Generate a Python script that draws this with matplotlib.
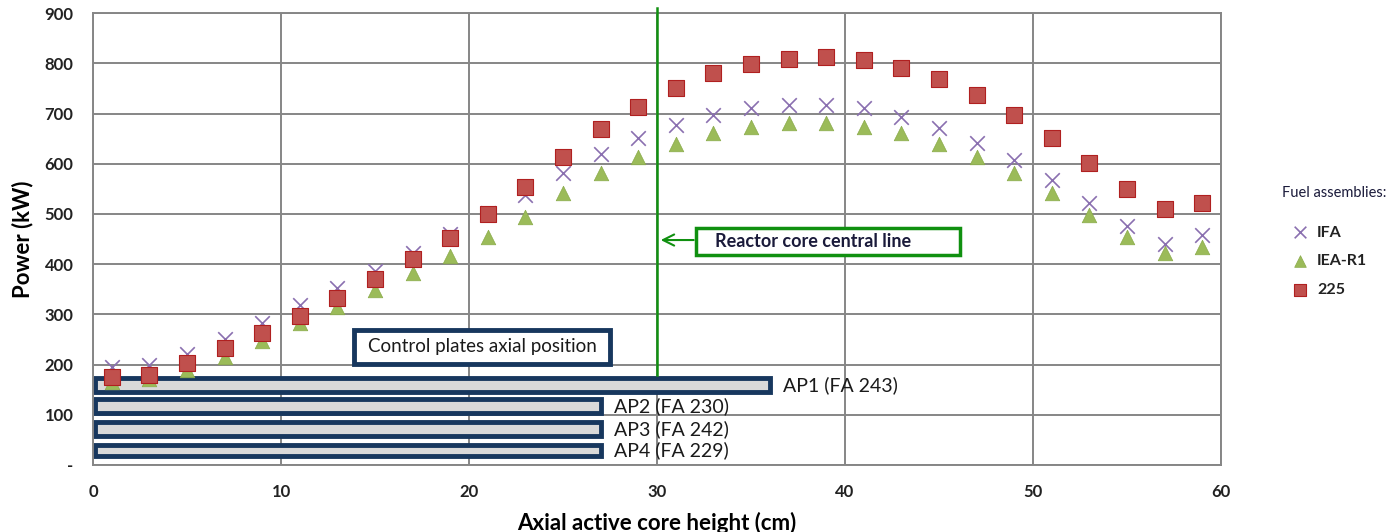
import numpy as np
import matplotlib.pyplot as plt
from matplotlib.patches import Rectangle

plt.rcParams['font.family'] = ['Lato', 'DejaVu Sans']

# --- Data ---
height = [1, 3, 5, 7, 9, 11, 13, 15, 17, 19, 21, 23, 25, 27, 29,
          31, 33, 35, 37, 39, 41, 43, 45, 47, 49, 51, 53, 55, 57, 59]
ifa = [196, 199, 222, 251, 283, 318, 352, 387, 423, 461, 502, 538, 581, 619, 651,
       677, 697, 710, 717, 717, 710, 694, 672, 642, 608, 568, 522, 476, 441, 458]
iea_r1 = [166, 172, 189, 216, 246, 282, 315, 349, 382, 416, 454, 494, 541, 581, 614,
          639, 661, 674, 682, 682, 674, 661, 639, 613, 581, 541, 498, 454, 423, 434]
fa225 = [175, 180, 203, 233, 263, 297, 332, 370, 410, 452, 500, 554, 614, 669, 713,
         751, 781, 799, 809, 812, 807, 791, 769, 737, 697, 652, 601, 550, 510, 522]

plate_names = ['AP1 (FA 243)', 'AP2 (FA 230)', 'AP3 (FA 242)', 'AP4 (FA 229)']
plate_ends = [36, 27, 27, 27]
plate_lows = [146, 104, 58, 17]
plate_highs = [173, 131, 86, 40]

y_ticks = [0, 100, 200, 300, 400, 500, 600, 700, 800, 900]
y_labels = ['-', '100', '200', '300', '400', '500', '600', '700', '800', '900']
x_ticks = [0, 10, 20, 30, 40, 50, 60]

navy = '#17375e'
green = '#109010'
fig = plt.figure(figsize=(13.88, 5.32), dpi=100)
ax = fig.add_axes([0.067, 0.126, 0.8127, 0.8494])
ax.set_xlim(0, 60)
ax.set_ylim(0, 900)

ax.grid(True, color='#868686', linewidth=1.4)
ax.set_axisbelow(True)
for s in ax.spines.values():
    s.set_color('#868686')
    s.set_linewidth(1.4)
ax.tick_params(length=0, pad=14, labelsize=12, colors='#222222')
ax.set_xticks(x_ticks)
ax.set_yticks(y_ticks)
ax.set_yticklabels(y_labels)
for lbl in ax.get_xticklabels() + ax.get_yticklabels():
    lbl.set_fontweight('bold')
ax.set_xlabel('Axial active core height (cm)', fontsize=16, fontweight='bold', labelpad=8)
ax.set_ylabel('Power (kW)', fontsize=16, fontweight='bold', labelpad=8)

# control plates
for name, end, lo, hi in zip(plate_names, plate_ends, plate_lows, plate_highs):
    ax.add_patch(Rectangle((0.1, lo), end - 0.1, hi - lo, facecolor='#d9d9d9',
                           edgecolor=navy, linewidth=3.5, zorder=2))
    ax.text(end + 0.7, (lo + hi) / 2, name, fontsize=14, color='#1a1a1a',
            va='center', ha='left', zorder=5)

# series
ax.scatter(height, ifa, marker='x', s=110, color='#8a70b0', linewidths=1.2,
           zorder=3, label='IFA')
ax.scatter(height, iea_r1, marker='^', s=110, color='#9bbb59', edgecolors='#8aab4a',
           linewidths=0.5, zorder=4, label='IEA-R1')
ax.scatter(height, fa225, marker='s', s=120, color='#c0504d', edgecolors='#b02020',
           linewidths=0.8, zorder=4, label='225')

# central line
ax.plot([30, 30], [179, 910], color=green, linewidth=1.8, zorder=5, clip_on=False)
ax.annotate('', xy=(30.05, 448), xytext=(32.1, 448),
            arrowprops=dict(arrowstyle='->', color=green, lw=1.5, mutation_scale=20),
            zorder=6)
ax.add_patch(Rectangle((32.1, 419), 14.0, 53, facecolor='white',
                       edgecolor=green, linewidth=2.5, zorder=6))
ax.text(33.1, 445, 'Reactor core central line', fontsize=13, fontweight='bold',
        color='#1a1a3a', va='center', ha='left', zorder=7)

ax.add_patch(Rectangle((13.9, 202), 13.6, 66, facecolor='white',
                       edgecolor=navy, linewidth=3.5, zorder=6))
ax.text(20.7, 235, 'Control plates axial position', fontsize=13.5,
        color='#1a1a1a', va='center', ha='center', zorder=7)

# legend
fig.text(1282 / 1388, 1 - 193 / 532, 'Fuel assemblies:', fontsize=10.5,
         color='#1a1a3a', va='center', ha='left')
leg = ax.legend(loc='upper left', bbox_to_anchor=(1.056, 0.53), frameon=False,
                fontsize=11.5, handletextpad=0.05, labelspacing=0.9,
                borderaxespad=0, borderpad=0, markerscale=0.8)
for t in leg.get_texts():
    t.set_fontweight('bold')
    t.set_color('#222222')

fig.savefig('out.png', dpi=100)
